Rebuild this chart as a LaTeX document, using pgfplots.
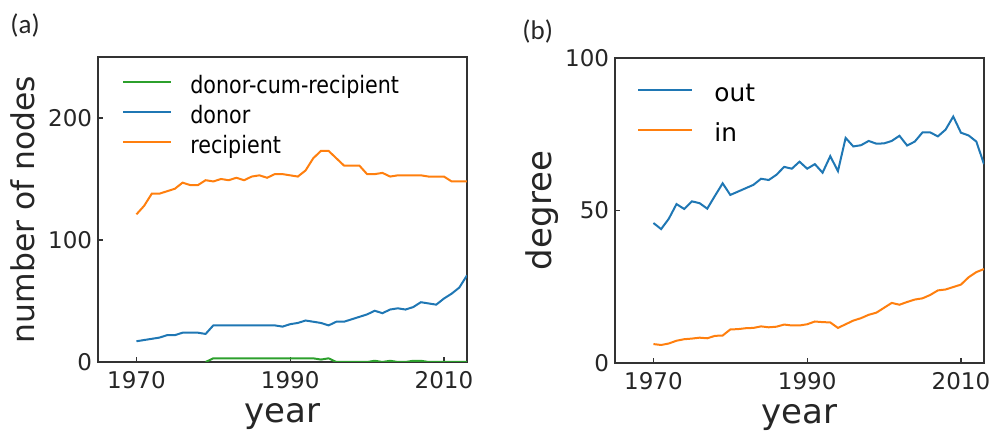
\documentclass[border=0pt]{standalone}
\usepackage{fontspec}
\setmainfont{DejaVu Sans}
\newfontfamily\legfont[FakeStretch=0.86]{DejaVu Sans}
\newfontfamily\panelfont{Carlito}
\usepackage{pgfplots}
\pgfplotsset{compat=1.18}
\definecolor{tabblue}{HTML}{1F77B4}
\definecolor{taborange}{HTML}{FF7F0E}
\definecolor{tabgreen}{HTML}{2CA02C}
\begin{document}
\begin{tikzpicture}
\useasboundingbox (0,0) rectangle (497.5pt,215.5pt);
\pgfplotsset{common/.style={
  scale only axis, width=184.5pt, height=152.5pt,
  xmin=1965, xmax=2013,
  xtick={1970,1990,2010},
  tick align=inside, xtick pos=left, ytick pos=left,
  major tick length=2.5pt,
  /pgf/number format/assume math mode=true,
  /pgf/number format/1000 sep={},
  tick label style={font=\fontsize{11.5}{12}\selectfont, color=black!85},
  xticklabel style={inner ysep=4.5pt},
  yticklabel style={inner xsep=2.75pt},
  axis line style={draw=black!80, line width=0.75pt},
  every tick/.append style={black!80, line width=0.6pt},
  label style={font=\fontsize{17}{20}\selectfont, color=black!85},
  xlabel style={at={(axis description cs:0.5,-0.2)}, anchor=base},
  ylabel style={at={(axis description cs:-0.171,0.5)}, anchor=base},
  every axis plot/.append style={line width=1pt},
}}
\begin{axis}[common, at={(49pt,34.5pt)}, anchor=south west,
  ymin=0, ymax=250, ytick={0,100,200},
  xlabel={year}, ylabel={number of nodes},
  ylabel style={font=\fontsize{15.7}{18}\selectfont},
  legend cell align=left,
  legend image code/.code={\draw[#1] (0pt,0.3em) -- (24pt,0.3em); \path (33pt,0.3em);},
  legend style={draw=none, fill=none, at={(axis description cs:0.065,0.932)}, anchor=north west,
    font=\legfont\fontsize{12}{12}\selectfont, row sep=5pt, inner sep=0pt,
    nodes={inner sep=0pt, text height=0.75em, text depth=0.25em}},
]
\addplot[tabgreen] coordinates {
(1979,0)(1980,3)(1981,3)(1982,3)(1983,3)(1984,3)(1985,3)(1986,3)(1987,3)(1988,3)(1989,3)
(1990,3)(1991,3)(1992,3)(1993,3)(1994,2)(1995,3)(1996,0)(1997,0)(1998,0)(1999,0)(2000,0)
(2001,1)(2002,0)(2003,1)(2004,0)(2005,0)(2006,1)(2007,1)(2008,0)(2009,0)(2010,0)(2011,0)(2012,0)(2013,0)};
\addlegendentry{donor-cum-recipient}
\addplot[tabblue] coordinates {
(1970,17)(1971,18)(1972,19)(1973,20)(1974,22)(1975,22)(1976,24)(1977,24)(1978,24)(1979,23)
(1980,30)(1981,30)(1982,30)(1983,30)(1984,30)(1985,30)(1986,30)(1987,30)(1988,30)(1989,29)
(1990,31)(1991,32)(1992,34)(1993,33)(1994,32)(1995,30)(1996,33)(1997,33)(1998,35)(1999,37)
(2000,39)(2001,42)(2002,40)(2003,43)(2004,44)(2005,43)(2006,45)(2007,49)(2008,48)(2009,47)
(2010,52)(2011,56)(2012,61)(2013,71)};
\addlegendentry{donor}
\addplot[taborange] coordinates {
(1970,121)(1971,128)(1972,138)(1973,138)(1974,140)(1975,142)(1976,147)(1977,145)(1978,145)(1979,149)
(1980,148)(1981,150)(1982,149)(1983,151)(1984,149)(1985,152)(1986,153)(1987,151)(1988,154)(1989,154)
(1990,153)(1991,152)(1992,157)(1993,167)(1994,173)(1995,173)(1996,167)(1997,161)(1998,161)(1999,161)
(2000,154)(2001,154)(2002,155)(2003,152)(2004,153)(2005,153)(2006,153)(2007,153)(2008,152)(2009,152)
(2010,152)(2011,148)(2012,148)(2013,148)};
\addlegendentry{recipient}
\end{axis}
\begin{axis}[common, at={(307.5pt,34pt)}, anchor=south west,
  ymin=0, ymax=100, ytick={0,50,100},
  xlabel={year}, ylabel={degree},
  legend cell align=left,
  legend image code/.code={\draw[#1] (0pt,0.3em) -- (27pt,0.3em); \path (37.5pt,0.3em);},
  legend style={draw=none, fill=none, at={(axis description cs:0.0596,0.908)}, anchor=north west,
    font=\fontsize{12.4}{13}\selectfont, row sep=9.8pt, inner sep=0pt,
    nodes={inner sep=0pt, text height=0.75em, text depth=0.25em}},
]
\addplot[tabblue] coordinates {
(1970,45.9)(1971,43.9)(1972,47.3)(1973,52.1)(1974,50.5)(1975,53.0)(1976,52.4)(1977,50.6)(1978,54.8)(1979,58.9)
(1980,55.1)(1981,56.2)(1982,57.3)(1983,58.4)(1984,60.4)(1985,60.0)(1986,61.7)(1987,64.3)(1988,63.7)(1989,66.0)
(1990,63.7)(1991,65.2)(1992,62.4)(1993,67.8)(1994,62.9)(1995,73.8)(1996,71.0)(1997,71.4)(1998,72.8)(1999,71.9)
(2000,72.0)(2001,72.8)(2002,74.5)(2003,71.3)(2004,72.6)(2005,75.6)(2006,75.6)(2007,74.3)(2008,76.5)(2009,80.8)
(2010,75.5)(2011,74.6)(2012,72.6)(2013,65.2)};
\addlegendentry{out}
\addplot[taborange] coordinates {
(1970,6.2)(1971,5.9)(1972,6.4)(1973,7.3)(1974,7.8)(1975,8.0)(1976,8.3)(1977,8.1)(1978,8.9)(1979,9.0)
(1980,11.0)(1981,11.1)(1982,11.4)(1983,11.5)(1984,12.0)(1985,11.7)(1986,11.9)(1987,12.6)(1988,12.3)(1989,12.3)
(1990,12.7)(1991,13.6)(1992,13.4)(1993,13.3)(1994,11.5)(1995,12.7)(1996,13.9)(1997,14.7)(1998,15.8)(1999,16.5)
(2000,18.1)(2001,19.7)(2002,19.1)(2003,20.0)(2004,20.8)(2005,21.2)(2006,22.3)(2007,23.8)(2008,24.1)(2009,24.9)
(2010,25.7)(2011,28.1)(2012,29.8)(2013,30.8)};
\addlegendentry{in}
\end{axis}
\node[anchor=base west, inner sep=0pt, font=\panelfont\fontsize{13.5}{15}\selectfont, color=black!85] at (5pt,198.5pt) {(a)};
\node[anchor=base west, inner sep=0pt, font=\panelfont\fontsize{13.5}{15}\selectfont, color=black!85] at (261pt,195.5pt) {(b)};
\end{tikzpicture}
\end{document}
